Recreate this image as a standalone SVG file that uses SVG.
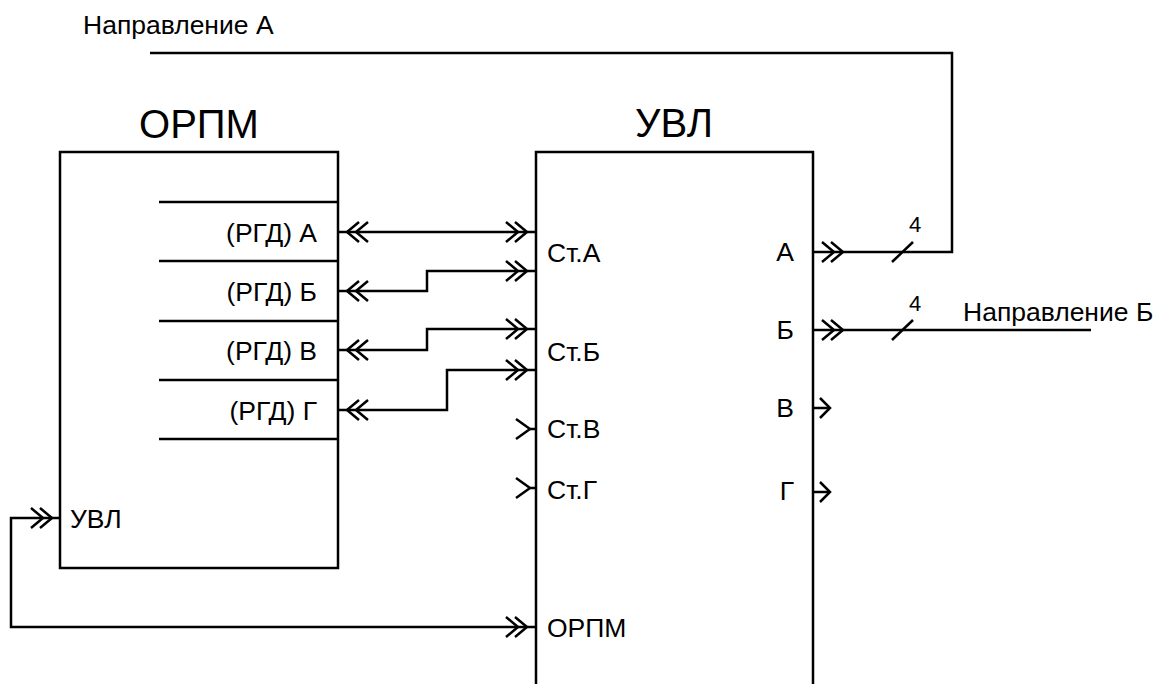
<svg xmlns="http://www.w3.org/2000/svg" xmlns:xlink="http://www.w3.org/1999/xlink" width="1165" height="684" viewBox="0 0 1165 684">
<style>
.ln{fill:none;stroke:#000;stroke-width:2.5;stroke-linejoin:miter}
.t{font-family:"Liberation Sans",Arial,sans-serif;font-size:26.5px;fill:#000}
.title{font-family:"Liberation Sans",Arial,sans-serif;font-size:40px;fill:#000;text-anchor:middle}
.num{font-family:"Liberation Sans",Arial,sans-serif;font-size:22px;fill:#000;text-anchor:middle}
.r{text-anchor:end}
</style>
<defs>
<path id="dr" class="ln" d="M-12,-10 L0,0 L-12,10 M-21,-10 L-9,0 L-21,10"/>
<path id="dl" class="ln" d="M12,-10 L0,0 L12,10 M21,-10 L9,0 L21,10"/>
<path id="sr" class="ln" d="M-14,-10 L0,0 L-14,10"/>
<path id="sl" class="ln" d="M-10,-10 L0,0 L-10,10"/>
</defs>
<rect width="1165" height="684" fill="#fff"/>
<g id="orpm">
<rect class="ln" x="60" y="152" width="278" height="416"/>
<text class="title" x="199" y="138">ОРПМ</text>
<path class="ln" d="M159,202H338M159,261H338M159,321H338M159,380H338M159,439H338"/>
<text class="t r" x="317" y="242">(РГД) А</text>
<text class="t r" x="317" y="301">(РГД) Б</text>
<text class="t r" x="317" y="360">(РГД) В</text>
<text class="t r" x="317" y="420">(РГД) Г</text>
<text class="t" x="70" y="528">УВЛ</text>
</g>
<g id="uvl">
<path class="ln" d="M536,686V152H813V686"/>
<text class="title" x="674" y="137">УВЛ</text>
<text class="t" x="547" y="262">Ст.А</text>
<text class="t" x="547" y="361">Ст.Б</text>
<text class="t" x="547" y="438">Ст.В</text>
<text class="t" x="547" y="499">Ст.Г</text>
<text class="t" x="547" y="637">ОРПМ</text>
<text class="t r" x="794" y="261">А</text>
<text class="t r" x="794" y="339">Б</text>
<text class="t r" x="794" y="417">В</text>
<text class="t r" x="794" y="500">Г</text>
</g>
<g id="labels">
<text class="t" x="83" y="34">Направление А</text>
<text class="t" x="963" y="321">Направление Б</text>
<text class="num" x="915" y="232">4</text>
<text class="num" x="915" y="311">4</text>
</g>
<g id="connectors">
<path class="ln" d="M338,232H536"/>
<use xlink:href="#dl" x="347" y="232"/><use xlink:href="#dr" x="527" y="232"/>
<path class="ln" d="M338,291H427V271H536"/>
<use xlink:href="#dl" x="347" y="291"/><use xlink:href="#dr" x="527" y="271"/>
<path class="ln" d="M338,350H427V329H536"/>
<use xlink:href="#dl" x="347" y="350"/><use xlink:href="#dr" x="527" y="329"/>
<path class="ln" d="M338,410H447V370H536"/>
<use xlink:href="#dl" x="347" y="410"/><use xlink:href="#dr" x="527" y="370"/>
<path class="ln" d="M530,429H536M530,488H536"/>
<use xlink:href="#sr" x="530" y="429"/><use xlink:href="#sr" x="530" y="488"/>
<path class="ln" d="M813,252H952V53H150"/>
<use xlink:href="#dr" x="843" y="252"/>
<path class="ln" d="M892,262L913,242"/>
<path class="ln" d="M813,330H1091"/>
<use xlink:href="#dr" x="843" y="330"/>
<path class="ln" d="M892,340L913,320"/>
<path class="ln" d="M813,408H830M813,492H830"/>
<use xlink:href="#sl" x="830" y="408"/><use xlink:href="#sl" x="830" y="492"/>
<path class="ln" d="M60,518H11V627H536"/>
<use xlink:href="#dr" x="52" y="518"/><use xlink:href="#dr" x="527" y="627"/>
</g>
</svg>
